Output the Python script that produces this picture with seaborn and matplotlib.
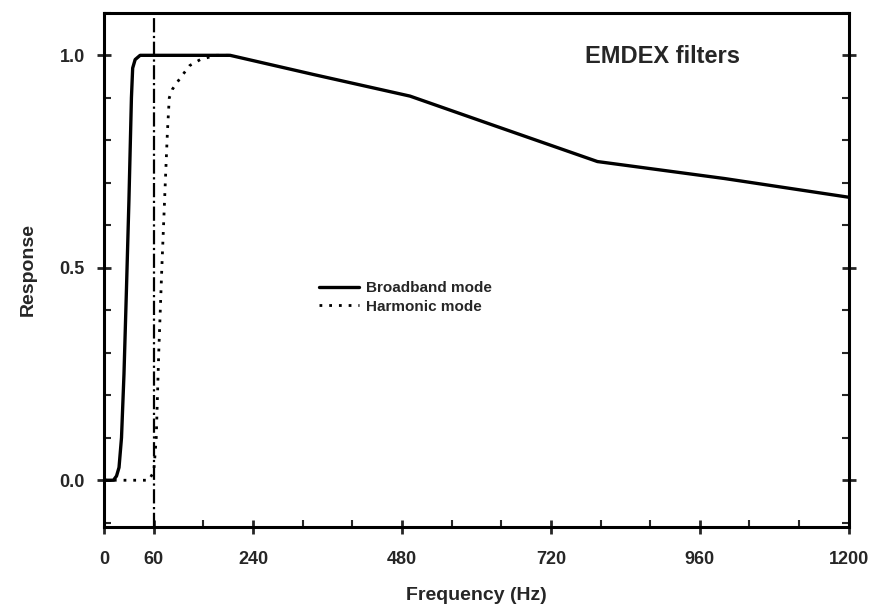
import pandas as pd
import seaborn as sns
import matplotlib.pyplot as plt
from matplotlib.ticker import MultipleLocator

# Values
broad_freq = [0, 15, 20, 24, 28, 32, 36, 40, 44, 46, 50, 58, 120, 203, 337, 493, 630, 795, 1000, 1200]
broad_resp = [0.0, 0.0, 0.01, 0.03, 0.10, 0.25, 0.45, 0.66, 0.90, 0.97, 0.99, 1.0, 1.0, 1.0, 0.955, 0.904, 0.834, 0.75, 0.71, 0.666]

harm_freq = [0, 72, 80, 84, 88, 93, 98, 102, 105, 110, 117, 127, 138, 155, 180, 203]
harm_resp = [0.0, 0.0, 0.02, 0.10, 0.30, 0.50, 0.68, 0.82, 0.90, 0.92, 0.935, 0.955, 0.976, 0.99, 1.0, 1.0]

marker_freq = 80
tick_pos = [0, 80, 240, 480, 720, 960, 1200]
tick_labels = ['0', '60', '240', '480', '720', '960', '1200']

broad = pd.DataFrame({'freq': broad_freq, 'resp': broad_resp})
harm = pd.DataFrame({'freq': harm_freq, 'resp': harm_resp})

sns.set_style('ticks')
plt.rcParams['font.family'] = ['Liberation Sans', 'DejaVu Sans']
plt.rcParams['font.weight'] = 'bold'

fig = plt.figure(figsize=(8.75, 6.11), dpi=100)
ax = fig.add_axes([0.119, 0.1375, 0.851, 0.8415])

sns.lineplot(data=broad, x='freq', y='resp', color='black', linewidth=2.4,
             label='Broadband mode', ax=ax, sort=False)
sns.lineplot(data=harm, x='freq', y='resp', color='black', linewidth=2.0,
             linestyle=(0, (1, 2.5)), label='Harmonic mode', ax=ax, sort=False)
ax.axvline(marker_freq, color='black', linewidth=1.6, linestyle='-.')

ax.set_xlim(0, 1200)
ax.set_ylim(-0.11, 1.10)
ax.set_xticks(tick_pos)
ax.set_xticklabels(tick_labels)
ax.set_yticks([0.0, 0.5, 1.0])
ax.set_yticklabels(['0.0', '0.5', '1.0'])
ax.xaxis.set_minor_locator(MultipleLocator(80))
ax.yaxis.set_minor_locator(MultipleLocator(0.1))

ax.tick_params(which='major', direction='inout', length=10, width=2, labelsize=13, pad=12)
ax.tick_params(which='minor', direction='in', length=5, width=1.5)
ax.tick_params(which='both', right=True, top=False)
ax.tick_params(axis='y', which='major', pad=9)
for s in ax.spines.values():
    s.set_linewidth(2.2)
    s.set_color('black')

ax.set_xlabel('Frequency (Hz)', fontsize=14, fontweight='bold', labelpad=14)
ax.set_ylabel('Response', fontsize=14, fontweight='bold', labelpad=16)

ax.text(0.75, 0.915, 'EMDEX filters', transform=ax.transAxes, fontsize=17,
        fontweight='bold', ha='center', va='center')

leg = ax.legend(loc='upper left', bbox_to_anchor=(0.27, 0.505), frameon=False,
                fontsize=11, handlelength=2.6, labelspacing=0.3, handletextpad=0.5)

fig.savefig('out.png', dpi=100)
